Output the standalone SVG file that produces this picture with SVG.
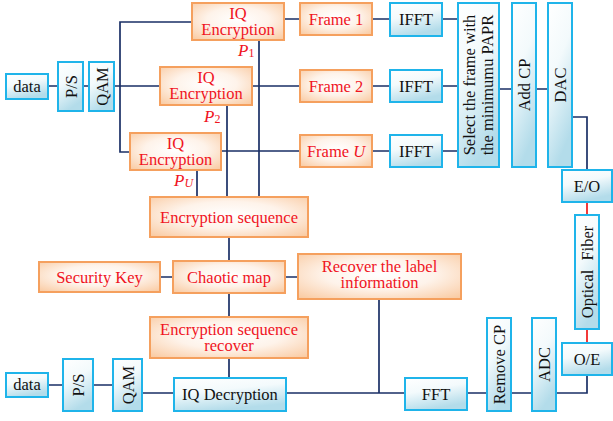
<svg xmlns="http://www.w3.org/2000/svg" width="613" height="421" viewBox="0 0 613 421">
<defs>
<radialGradient id="go" cx="50%" cy="45%" r="75%">
<stop offset="0" stop-color="#FFFFFF"/>
<stop offset="0.45" stop-color="#FEF3EA"/>
<stop offset="1" stop-color="#F9C79C"/>
</radialGradient>
<linearGradient id="gb" x1="0" y1="0" x2="0.35" y2="1">
<stop offset="0" stop-color="#FFFFFF"/>
<stop offset="0.45" stop-color="#F3FAFC"/>
<stop offset="1" stop-color="#B3DCEA"/>
</linearGradient>
<style>
.o{fill:url(#go);stroke:#F5A05E;stroke-width:2}
.b{fill:url(#gb);stroke:#1FB4EA;stroke-width:2}
.ot{font-family:"Liberation Serif","Times New Roman",serif;font-size:16.5px;fill:#F0141E;text-anchor:middle}
.bt{font-family:"Liberation Serif","Times New Roman",serif;font-size:16.5px;fill:#111111;text-anchor:middle}
.pl{font-family:"Liberation Serif","Times New Roman",serif;font-size:17px;fill:#F0141E;font-style:italic}
.c{fill:none;stroke:#1A2F66;stroke-width:1.7}
.r{fill:none;stroke:#F01818;stroke-width:1.7}
</style>
</defs>
<rect width="613" height="421" fill="#FFFFFF"/>
<g id="connectors">
<path class="c" d="M48,86H58M83,86H89M114,86H160M192,22H120V152H130"/>
<path class="c" d="M284,19H300M372,19H390M442,19H458"/>
<path class="c" d="M252,86H300M372,86H390M442,86H458"/>
<path class="c" d="M221,151H300M372,151H390M442,151H458"/>
<path class="c" d="M499,89H512M536,89H548M572,117H587V170"/>
<path class="r" d="M587,202V215M587,329V343"/>
<path class="c" d="M587,375V393H556M532,393H511M487,393H467M405,393H286M379,299V393"/>
<path class="c" d="M142,393H174M48,385H63M93,385H113"/>
<path class="c" d="M259,40V197M227,105V197M197,170V197"/>
<path class="c" d="M229,237V261M229,293V317M229,358V378M160,277H173M285,277H298"/>
</g>
<g id="data1"><rect class="b" x="6" y="74" width="42" height="25"/><text class="bt" x="27" y="91.5">data</text></g>
<g id="ps1"><rect class="b" x="58" y="62" width="25" height="49"/><text class="bt" transform="translate(70.5,86.5) rotate(-90)" y="6">P/S</text></g>
<g id="qam1"><rect class="b" x="89" y="62" width="25" height="49"/><text class="bt" transform="translate(101.5,86.5) rotate(-90)" y="6">QAM</text></g>
<g id="enc1"><rect class="o" x="192" y="3" width="92" height="37"/><text class="ot" x="238" y="18.5">IQ</text><text class="ot" x="238" y="34.5">Encryption</text></g>
<g id="enc2"><rect class="o" x="160" y="67" width="92" height="38"/><text class="ot" x="206" y="82.5">IQ</text><text class="ot" x="206" y="98.5">Encryption</text></g>
<g id="enc3"><rect class="o" x="130" y="133" width="91" height="37"/><text class="ot" x="175.5" y="148.5">IQ</text><text class="ot" x="175.5" y="164.5">Encryption</text></g>
<g id="p1"><text class="pl" x="238" y="56">P<tspan font-style="normal" font-size="12" dy="1">1</tspan></text></g>
<g id="p2"><text class="pl" x="204" y="122">P<tspan font-style="normal" font-size="12" dy="1">2</tspan></text></g>
<g id="pu"><text class="pl" x="174" y="186">P<tspan font-size="12" dy="1">U</tspan></text></g>
<g id="frame1"><rect class="o" x="300" y="3" width="72" height="32"/><text class="ot" x="336" y="24.5">Frame 1</text></g>
<g id="frame2"><rect class="o" x="300" y="70" width="72" height="32"/><text class="ot" x="336" y="91.5">Frame 2</text></g>
<g id="frameU"><rect class="o" x="300" y="135" width="72" height="32"/><text class="ot" x="336" y="156.5">Frame <tspan font-style="italic">U</tspan></text></g>
<g id="ifft1"><rect class="b" x="390" y="3" width="52" height="33"/><text class="bt" x="416" y="25">IFFT</text></g>
<g id="ifft2"><rect class="b" x="390" y="70" width="52" height="32"/><text class="bt" x="416" y="91.5">IFFT</text></g>
<g id="ifft3"><rect class="b" x="390" y="135" width="52" height="32"/><text class="bt" x="416" y="156.5">IFFT</text></g>
<g id="select"><rect class="b" x="458" y="3" width="41" height="164"/><text class="bt" transform="translate(478.5,85) rotate(-90)"><tspan x="0" y="-3.5">Select the frame with</tspan><tspan x="0" y="14.5">the minimumu PAPR</tspan></text></g>
<g id="addcp"><rect class="b" x="512" y="3" width="24" height="164"/><text class="bt" transform="translate(524,85) rotate(-90)" y="6">Add CP</text></g>
<g id="dac"><rect class="b" x="548" y="3" width="24" height="164"/><text class="bt" transform="translate(560,85) rotate(-90)" y="6">DAC</text></g>
<g id="eo"><rect class="b" x="562" y="170" width="50" height="32"/><text class="bt" x="587" y="191.5">E/O</text></g>
<g id="fiber"><rect class="b" x="575" y="215" width="24" height="114"/><text class="bt" transform="translate(587,272) rotate(-90)" y="6" word-spacing="5">Optical Fiber</text></g>
<g id="oe"><rect class="b" x="562" y="343" width="50" height="32"/><text class="bt" x="587" y="364.5">O/E</text></g>
<g id="adc"><rect class="b" x="532" y="318" width="24" height="93"/><text class="bt" transform="translate(544,364.5) rotate(-90)" y="6">ADC</text></g>
<g id="rmcp"><rect class="b" x="487" y="318" width="24" height="93"/><text class="bt" transform="translate(499,364.5) rotate(-90)" y="6">Remove CP</text></g>
<g id="fft"><rect class="b" x="405" y="378" width="62" height="32"/><text class="bt" x="436" y="399.5">FFT</text></g>
<g id="recover"><rect class="o" x="298" y="254" width="163" height="45"/><text class="ot" x="379.5" y="272">Recover the label</text><text class="ot" x="379.5" y="288">information</text></g>
<g id="eseq"><rect class="o" x="150" y="197" width="158" height="40"/><text class="ot" x="229" y="222.5">Encryption sequence</text></g>
<g id="seckey"><rect class="o" x="39" y="262" width="121" height="30"/><text class="ot" x="99.5" y="282.5">Security Key</text></g>
<g id="chaotic"><rect class="o" x="173" y="261" width="112" height="32"/><text class="ot" x="229" y="282.5">Chaotic map</text></g>
<g id="esrec"><rect class="o" x="150" y="317" width="158" height="41"/><text class="ot" x="229" y="335">Encryption sequence</text><text class="ot" x="229" y="350.5">recover</text></g>
<g id="iqdec"><rect class="b" x="174" y="378" width="112" height="33"/><text class="bt" x="230" y="400">IQ Decryption</text></g>
<g id="data2"><rect class="b" x="6" y="373" width="42" height="24"/><text class="bt" x="27" y="390">data</text></g>
<g id="ps2"><rect class="b" x="63" y="359" width="30" height="52"/><text class="bt" transform="translate(78,385) rotate(-90)" y="6">P/S</text></g>
<g id="qam2"><rect class="b" x="113" y="359" width="29" height="52"/><text class="bt" transform="translate(127.5,385) rotate(-90)" y="6">QAM</text></g>
</svg>
